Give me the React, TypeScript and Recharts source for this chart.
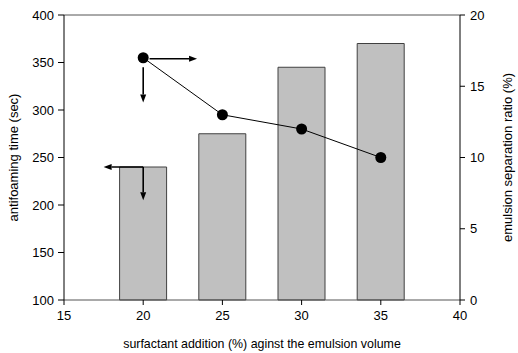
import { Bar, ComposedChart, Label, Line, ReferenceLine, XAxis, YAxis } from 'recharts';

const surfactant = [20, 25, 30, 35];
const antifoamingTime = [240, 275, 345, 370];
const separationRatio = [17, 13, 12, 10];

const xTicks = [15, 20, 25, 30, 35, 40];
const leftTicks = [100, 150, 200, 250, 300, 350, 400];
const rightTicks = [0, 5, 10, 15, 20];

// arrows pointing at the axis each series belongs to (left-axis units)
const arrows = [
  { from: { x: 20.4, y: 354 }, to: { x: 23.4, y: 354 } },
  { from: { x: 20, y: 345 }, to: { x: 20, y: 308 } },
  { from: { x: 20, y: 240 }, to: { x: 17.5, y: 240 } },
  { from: { x: 20, y: 240 }, to: { x: 20, y: 205 } },
];

const data = surfactant.map((x, i) => ({
  x,
  time: antifoamingTime[i],
  ratio: separationRatio[i],
}));

const font = 'Liberation Sans, Arial, sans-serif';
const tickStyle = { fontSize: 13, fill: '#000', fontFamily: font };

function Arrow(props: any) {
  const { x1, y1, x2, y2 } = props;
  const dx = x2 - x1;
  const dy = y2 - y1;
  const len = Math.hypot(dx, dy) || 1;
  const ux = dx / len;
  const uy = dy / len;
  const head = 8;
  const half = 3;
  const bx = x2 - ux * head;
  const by = y2 - uy * head;
  const pts = `${x2},${y2} ${bx - uy * half},${by + ux * half} ${bx + uy * half},${by - ux * half}`;
  return (
    <g>
      <line x1={x1} y1={y1} x2={bx} y2={by} stroke="#000" strokeWidth={1.6} />
      <polygon points={pts} fill="#000" />
    </g>
  );
}

export default function App() {
  return (
    <div style={{ position: 'absolute', left: 0, top: 0, background: '#fff' }}>
      <ComposedChart
        width={518}
        height={353}
        data={data}
        margin={{ top: 15, right: 0, left: 0, bottom: 0 }}
        style={{ fontFamily: font }}
      >
        <XAxis
          dataKey="x"
          type="number"
          domain={[15, 40]}
          ticks={xTicks}
          height={53}
          tick={tickStyle}
          tickSize={5}
          tickMargin={6}
          axisLine={{ stroke: '#555' }}
          tickLine={{ stroke: '#000' }}
        >
          <Label
            value="surfactant addition (%) aginst the emulsion volume"
            position="insideBottom"
            offset={5}
            style={{ fontSize: 12.4, fill: '#000', fontFamily: font }}
          />
        </XAxis>
        <YAxis
          yAxisId="left"
          domain={[100, 400]}
          ticks={leftTicks}
          width={64}
          tick={tickStyle}
          tickSize={6}
          tickMargin={4}
          axisLine={{ stroke: '#000' }}
          tickLine={{ stroke: '#000' }}
        >
          <Label
            value="antifoaming time (sec)"
            angle={-90}
            position="insideLeft"
            offset={13}
            style={{ fontSize: 13, fill: '#000', fontFamily: font, textAnchor: 'middle' }}
          />
        </YAxis>
        <YAxis
          yAxisId="right"
          orientation="right"
          domain={[0, 20]}
          ticks={rightTicks}
          width={58}
          tick={tickStyle}
          tickSize={5}
          tickMargin={5}
          axisLine={{ stroke: '#000' }}
          tickLine={{ stroke: '#000' }}
        >
          <Label
            value="emulsion separation ratio (%)"
            angle={-90}
            position="insideRight"
            offset={11}
            style={{ fontSize: 13, fill: '#000', fontFamily: font, textAnchor: 'middle' }}
          />
        </YAxis>
        <ReferenceLine yAxisId="left" y={400} stroke="#555" />
        <Bar
          yAxisId="left"
          dataKey="time"
          barSize={47}
          fill="#c0c0c0"
          stroke="#404040"
          strokeWidth={1}
          isAnimationActive={false}
        />
        <Line
          yAxisId="right"
          dataKey="ratio"
          stroke="#000"
          strokeWidth={1}
          dot={{ r: 5.5, fill: '#000', stroke: '#000', strokeWidth: 0 }}
          activeDot={false}
          isAnimationActive={false}
        />
        {arrows.map((a, i) => (
          <ReferenceLine
            key={i}
            yAxisId="left"
            segment={[a.from, a.to]}
            shape={Arrow}
          />
        ))}
      </ComposedChart>
    </div>
  );
}
